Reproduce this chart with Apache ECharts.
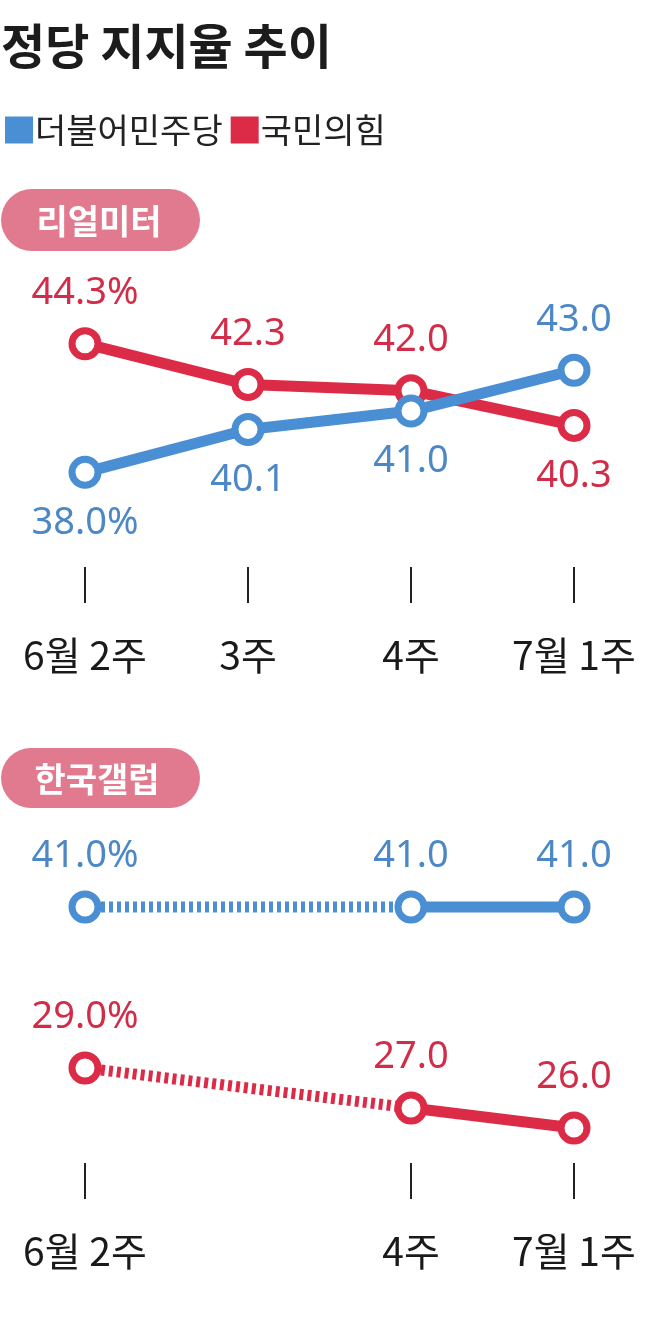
<!DOCTYPE html>
<html>
<head>
<meta charset="utf-8">
<script src="https://cdn.jsdelivr.net/npm/echarts@6/dist/echarts.min.js"></script>
<style>
html,body{margin:0;padding:0;background:#fff;}
#chart{width:658px;height:1322px;}
</style>
</head>
<body>
<div id="chart"></div>
<script>
// ---- data ----
var titleText = '정당 지지율 추이';
var partyNames = ['더불어민주당', '국민의힘'];
var categories = ['6월 2주', '3주', '4주', '7월 1주'];
var panelNames = ['리얼미터', '한국갤럽'];
// 리얼미터
var rmDemocratic = [38.0, 40.1, 41.0, 43.0];
var rmPpp = [44.3, 42.3, 42.0, 40.3];
// 한국갤럽 (3주 no survey)
var glDemocratic = [41.0, null, 41.0, 41.0];
var glPpp = [29.0, null, 27.0, 26.0];

// ---- style ----
var BLUE = '#4a8fd3', RED = '#dc2b47';
var BLUE_T = '#4c87c6', RED_T = '#d12d49';
var PINK = '#e17a8e';
var CJK = '"Noto Sans CJK KR", "Noto Sans", sans-serif';
var NUM = '"Noto Sans", Roboto, sans-serif';

function fmt(v, i) { return v.toFixed(1) + (i === 0 ? '%' : ''); }

function items(arr, sideFn) {
  return arr.map(function (v, i) {
    if (v == null) return null;
    return { value: v, label: { position: sideFn(i) } };
  });
}
function bridge(arr) {
  var out = arr.map(function () { return null; });
  for (var i = 0; i < arr.length; i++) {
    if (arr[i] == null) {
      var a = i - 1, b = i;
      while (b < arr.length && arr[b] == null) b++;
      if (a >= 0 && b < arr.length) { out[a] = arr[a]; out[b] = arr[b]; }
      i = b;
    }
  }
  return out;
}

var lastIdx = categories.length - 1;
function seriesBase(name, color, tcolor, xi, yi, data) {
  return {
    name: name, type: 'line', xAxisIndex: xi, yAxisIndex: yi,
    data: data, connectNulls: false,
    symbol: 'circle', symbolSize: 26, showSymbol: true,
    lineStyle: { color: color, width: 11, cap: 'round' },
    itemStyle: { color: '#fff', borderColor: color, borderWidth: 7 },
    label: {
      show: true, distance: 15, color: tcolor, fontSize: 38, fontFamily: NUM,
      formatter: function (p) { return fmt(p.value, p.dataIndex); }
    },
    emphasis: { disabled: true }, animation: false
  };
}
function dashed(name, color, xi, yi, arr) {
  return {
    name: name, type: 'line', xAxisIndex: xi, yAxisIndex: yi,
    data: bridge(arr), connectNulls: true, showSymbol: false, symbol: 'none',
    lineStyle: { color: color, width: 11, type: [4, 4], cap: 'butt' },
    z: 1, emphasis: { disabled: true }, animation: false, silent: true
  };
}

var grids = [
  { left: 85, width: 489, top: 309, height: 245 },
  { left: 85, width: 489, top: 887, height: 40 },
  { left: 85, width: 489, top: 1048, height: 100 }
];

function xAx(gi, show, offset, labelFilter) {
  return {
    type: 'category', gridIndex: gi, data: categories, boundaryGap: false,
    show: show, offset: offset,
    axisLine: { show: false },
    axisTick: {
      show: true, length: 36, alignWithLabel: true,
      interval: labelFilter || 0,
      lineStyle: { color: '#222', width: 2 }
    },
    axisLabel: {
      show: true, interval: labelFilter || 0, margin: 69,
      color: '#1a1a1a', fontSize: 39, fontFamily: CJK
    },
    splitLine: { show: false }
  };
}
function yAx(gi, min, max) {
  return { type: 'value', gridIndex: gi, min: min, max: max, show: false, splitLine: { show: false } };
}

var gallupFilter = function (i) { return glDemocratic[i] != null || glPpp[i] != null; };

var option = {
  backgroundColor: '#fff',
  animation: false,
  legend: {
    left: 0, top: 108, itemWidth: 28, itemHeight: 27, itemGap: 8, icon: 'rect',
    selectedMode: false,
    data: [
      { name: partyNames[0], itemStyle: { color: BLUE, borderWidth: 0 } },
      { name: partyNames[1], itemStyle: { color: RED, borderWidth: 0 } }
    ],
    textStyle: { fontSize: 34, color: '#222', fontFamily: CJK, padding: [0, 0, 0, -3] }
  },
  grid: grids,
  xAxis: [xAx(0, true, 13), xAx(1, false, 0), xAx(2, true, 15, gallupFilter)],
  yAxis: [yAx(0, 34, 46), yAx(1, 40, 42), yAx(2, 25, 30)],
  graphic: [
    { type: 'text', left: 1, top: 22, style: { text: titleText, fill: '#1c1c1c', font: 'bold 48px ' + CJK } },
    { type: 'rect', shape: { x: 1, y: 189, width: 199, height: 62, r: 31 }, style: { fill: PINK } },
    { type: 'text', x: 99, y: 221, style: { text: panelNames[0], fill: '#fff', font: 'bold 34px ' + CJK, textAlign: 'center', textVerticalAlign: 'middle' } },
    { type: 'rect', shape: { x: 1, y: 748, width: 199, height: 60, r: 30 }, style: { fill: PINK } },
    { type: 'text', x: 97, y: 779, style: { text: panelNames[1], fill: '#fff', font: 'bold 34px ' + CJK, textAlign: 'center', textVerticalAlign: 'middle' } }
  ],
  series: [
    seriesBase(partyNames[1], RED, RED_T, 0, 0, items(rmPpp, function (i) { return i === lastIdx ? 'bottom' : 'top'; })),
    seriesBase(partyNames[0], BLUE, BLUE_T, 0, 0, items(rmDemocratic, function (i) { return i === lastIdx ? 'top' : 'bottom'; })),
    dashed(partyNames[0], BLUE, 1, 1, glDemocratic),
    seriesBase(partyNames[0], BLUE, BLUE_T, 1, 1, items(glDemocratic, function () { return 'top'; })),
    dashed(partyNames[1], RED, 2, 2, glPpp),
    seriesBase(partyNames[1], RED, RED_T, 2, 2, items(glPpp, function () { return 'top'; }))
  ]
};
var chart = echarts.init(document.getElementById('chart'), null, { renderer: 'canvas' });
chart.setOption(option);
</script>
</body>
</html>
